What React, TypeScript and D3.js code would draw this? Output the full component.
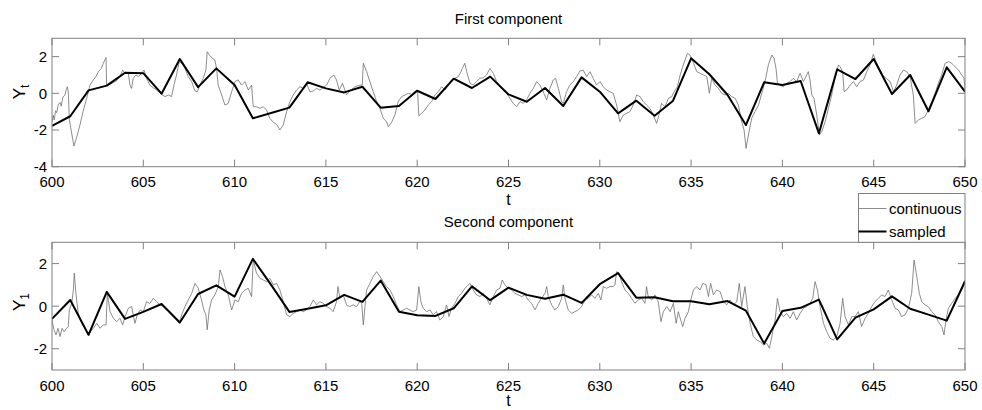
import React from 'react';
import * as d3 from 'd3';

// sampled series, one value per integer t
const sampleT = d3.range(600, 651);
const xTicks = d3.range(600, 651, 5);
const yTicksFirst = [-4, -2, 0, 2];
const yTicksSecond = [-2, 0, 2];

const sampledFirst = [
  -1.77, -1.25, 0.16, 0.42, 1.12, 1.1, -0.02, 1.87, 0.34, 1.36, 0.45, -1.36, -1.07, -0.78, 0.6, 0.27, 0.05,
  0.36, -0.78, -0.69, 0.14, -0.31, 0.8, 0.29, 0.91, -0.06, -0.46, 0.29, -0.69, 0.87, 0.09, -1.09, -0.4, -1.22,
  -0.42, 1.91, 1.04, -0.09, -1.73, 0.6, 0.45, 0.67, -2.18, 1.31, 0.78, 1.87, -0.04, 1.0, -0.98, 1.42, 0.09,
];

const sampledSecond = [
  -0.6, 0.29, -1.35, 0.67, -0.6, -0.27, 0.1, -0.77, 0.57, 0.98, 0.45, 2.22, 1.0, -0.27, -0.12, 0.04, 0.53,
  0.2, 1.2, -0.26, -0.43, -0.46, -0.1, 0.93, 0.28, 0.87, 0.53, 0.35, 0.54, 0.15, 1.03, 1.55, 0.4, 0.42,
  0.23, 0.23, 0.09, 0.24, -0.21, -1.76, -0.23, -0.08, 0.31, -1.56, -0.54, -0.15, 0.46, -0.12, -0.4, -0.68, 1.17,
];

// continuous path, [t, value]
const continuousFirst: [number, number][] = [
  [600.0, -1.55], [600.07, -1.2], [600.12, -1.45], [600.2, -0.95], [600.26, -1.05], [600.35, -0.6], [600.44, -0.5],
  [600.5, -0.7], [600.6, -0.2], [600.7, -0.1], [600.78, 0.2], [600.84, 0.36], [600.89, 0.1], [600.95, -1.45],
  [601.2, -2.87], [601.35, -2.4], [601.53, -1.73], [601.7, -1.0], [601.9, -0.27], [602.08, 0.45], [602.26, 0.73],
  [602.4, 0.9], [602.54, 1.18], [602.7, 1.35], [602.81, 1.64], [602.96, 1.95], [602.99, 0.45], [603.18, 0.49],
  [603.45, 0.64], [603.6, 0.75], [603.72, 0.91], [603.87, 1.27], [604.0, 1.09], [604.18, 1.09], [604.27, 0.45],
  [604.36, 0.27], [604.45, 0.82], [604.6, 1.0], [604.73, 0.91], [604.91, 1.09], [605.04, 1.27], [605.18, 0.82],
  [605.36, 0.45], [605.55, 0.3], [605.73, 0.18], [606.0, -0.05], [606.19, -0.18], [606.37, -0.09], [606.55, -0.18],
  [606.68, 0.45], [606.82, 1.0], [606.97, 1.73], [607.1, 1.64], [607.28, 1.36], [607.46, 0.91], [607.65, 0.64],
  [607.83, 0.13], [607.96, 0.09], [608.1, 0.45], [608.28, 0.82], [608.43, 1.27], [608.5, 2.27], [608.65, 2.05],
  [608.83, 1.87], [608.92, 1.82], [609.01, 1.36], [609.1, 0.45], [609.29, -0.09], [609.47, -0.64], [609.65, -0.55],
  [609.84, 0.09], [610.02, 0.64], [610.2, 0.73], [610.38, 0.45], [610.57, 0.64], [610.75, 0.18], [610.93, 0.45],
  [611.02, -0.73], [611.2, -0.73], [611.39, -0.82], [611.57, -0.73], [611.75, -0.91], [611.93, -1.36], [612.12, -1.58],
  [612.3, -1.69], [612.48, -2.0], [612.66, -1.73], [612.85, -1.0], [613.03, -0.45], [613.21, -0.09], [613.39, 0.18],
  [613.58, 0.36], [613.76, 0.27], [613.94, 0.55], [614.12, 0.09], [614.31, 0.13], [614.49, 0.27], [614.67, 0.18],
  [614.85, 0.31], [615.04, 0.45], [615.22, 0.82], [615.44, 1.0], [615.58, 0.73], [615.73, 0.18], [615.91, 0.55],
  [616.13, -0.09], [616.31, 0.13], [616.59, 0.36], [616.86, 0.45], [616.99, 0.45], [617.05, 1.64], [617.23, 1.18],
  [617.41, 0.64], [617.59, 0.09], [617.78, -0.45], [617.96, -0.82], [618.14, -1.36], [618.32, -1.55], [618.42, -1.82],
  [618.6, -1.58], [618.78, -1.18], [618.96, -0.45], [619.15, -0.18], [619.33, -0.09], [619.51, 0.0], [619.69, -0.05],
  [619.97, 0.18], [620.02, 0.09], [620.09, -1.22], [620.24, -1.09], [620.42, -0.91], [620.61, -0.64], [620.79, -0.45],
  [620.97, -0.09], [621.15, 0.09], [621.34, 0.36], [621.52, 0.18], [621.7, 0.45], [621.88, 0.73], [622.07, 0.82],
  [622.25, 0.91], [622.4, 1.18], [622.47, 1.36], [622.61, 1.64], [622.71, 1.18], [622.89, 0.55], [623.07, 0.45],
  [623.25, 0.64], [623.44, 0.82], [623.62, 0.85], [623.8, 1.0], [623.98, 1.36], [624.17, 1.09], [624.35, 0.64],
  [624.53, 0.36], [624.71, 0.18], [624.9, 0.0], [625.08, -0.27], [625.26, -0.55], [625.44, -0.73], [625.63, -0.45],
  [625.81, -0.55], [625.99, -0.36], [626.17, 0.0], [626.36, 0.27], [626.54, 0.64], [626.72, 0.45], [626.9, 0.09],
  [627.09, -0.36], [627.27, 0.27], [627.45, 0.73], [627.58, 0.82], [627.73, 0.27], [627.91, -0.45], [628.0, -0.55],
  [628.18, 0.09], [628.36, 0.45], [628.55, 0.64], [628.73, 0.91], [628.91, 1.22], [629.09, 1.27], [629.28, 0.91],
  [629.46, 1.18], [629.64, 0.82], [629.82, 0.45], [630.01, 0.64], [630.19, 0.36], [630.37, 0.18], [630.55, 0.09],
  [630.74, 0.0], [630.92, -0.64], [631.1, -1.55], [631.29, -1.18], [631.47, -1.09], [631.65, -1.0], [631.83, -0.64],
  [632.02, -0.09], [632.2, -0.18], [632.38, -0.45], [632.56, -0.64], [632.75, -0.82], [632.93, -1.18], [633.11, -1.64],
  [633.24, -1.18], [633.38, -0.55], [633.57, -0.73], [633.76, -0.27], [633.94, -0.18], [634.12, 0.18], [634.25, 0.36],
  [634.4, 1.0], [634.54, 1.45], [634.67, 1.82], [634.8, 2.18], [634.94, 2.09], [635.13, 1.64], [635.31, 1.18],
  [635.49, 1.09], [635.67, 1.0], [635.86, 0.91], [636.0, 0.0], [636.13, 0.82], [636.31, 0.45], [636.49, 0.27],
  [636.68, 0.0], [636.86, -0.09], [637.04, 0.0], [637.22, -0.18], [637.41, -0.27], [637.59, -0.64], [637.77, -1.55],
  [637.9, -2.0], [638.01, -3.0], [638.14, -2.27], [638.32, -1.36], [638.5, -1.0], [638.69, -0.64], [638.87, 0.0],
  [639.05, 0.64], [639.23, 1.55], [639.42, 2.09], [639.54, 1.91], [639.65, 1.36], [639.73, 0.55], [639.87, 0.45],
  [640.05, 0.36], [640.24, 0.55], [640.42, 0.64], [640.6, 0.82], [640.78, 0.64], [640.97, 1.09], [641.15, 0.64],
  [641.42, 1.18], [641.51, 0.73], [641.61, -0.09], [641.73, -0.27], [641.88, -1.18], [642.03, -2.27], [642.15, -2.09],
  [642.34, -1.55], [642.52, -0.82], [642.7, -0.09], [642.88, 0.82], [643.07, 1.55], [643.16, 1.45], [643.3, 1.18],
  [643.38, 0.09], [643.52, 0.18], [643.71, 0.45], [643.89, 0.64], [644.07, 0.36], [644.25, 0.64], [644.44, 0.73],
  [644.62, 1.18], [644.8, 1.55], [644.98, 2.13], [645.13, 1.73], [645.31, 1.36], [645.49, 1.0], [645.68, 0.82],
  [645.9, 0.64], [646.08, 0.09], [646.26, 0.45], [646.44, 1.0], [646.63, 1.27], [646.81, 1.18], [646.99, 0.91],
  [647.17, -0.09], [647.27, -1.64], [647.45, -1.45], [647.63, -1.36], [647.81, -1.27], [647.99, -0.91], [648.18, -0.45],
  [648.36, 0.0], [648.54, 0.55], [648.72, 1.0], [648.91, 1.64], [649.09, 1.73], [649.27, 1.64], [649.46, 1.45],
  [649.64, 1.27], [649.82, 1.0], [649.95, 0.82], [650.0, 0.18],
];

const continuousSecond: [number, number][] = [
  [600.0, -0.65], [600.11, -1.11], [600.22, -1.35], [600.33, -1.04], [600.44, -1.43], [600.55, -1.04], [600.66, -1.2],
  [600.8, -1.04], [600.89, -0.96], [600.95, -0.18], [601.08, 0.13], [601.17, 0.76], [601.22, 1.55], [601.31, 0.6],
  [601.44, -0.34], [601.62, -0.81], [601.81, -1.04], [601.99, -1.35], [602.12, -1.2], [602.26, -1.04], [602.45, -0.81],
  [602.63, -1.04], [602.81, -0.88], [602.96, -0.88], [603.03, 0.6], [603.18, -0.26], [603.36, -0.57], [603.54, -0.73],
  [603.72, -0.57], [603.87, -0.88], [604.0, -0.49], [604.18, -0.1], [604.36, -0.02], [604.54, -0.81], [604.67, -0.41],
  [604.82, -0.18], [605.0, -0.26], [605.18, 0.21], [605.36, 0.13], [605.55, 0.37], [605.73, 0.21], [605.91, 0.06],
  [606.09, -0.02], [606.28, -0.18], [606.46, -0.26], [606.64, -0.49], [606.82, -0.65], [606.97, -0.81], [607.1, -0.41],
  [607.28, -0.02], [607.46, 0.29], [607.65, 0.6], [607.83, 1.07], [608.01, 0.84], [608.19, 0.29], [608.32, -0.18],
  [608.43, -0.41], [608.5, -1.11], [608.61, -0.18], [608.74, 0.29], [608.92, 0.53], [609.11, 0.92], [609.2, 1.7],
  [609.34, 1.39], [609.47, 0.92], [609.65, 0.53], [609.84, -0.18], [610.02, 0.29], [610.2, 0.21], [610.38, 0.6],
  [610.57, 0.76], [610.75, 0.84], [610.93, 0.45], [611.02, 2.17], [611.2, 1.55], [611.39, 1.31], [611.57, 1.23],
  [611.75, 1.15], [611.93, 1.31], [612.12, 1.0], [612.3, 1.07], [612.48, 0.76], [612.66, 0.21], [612.85, -0.41],
  [613.03, -0.49], [613.21, -0.34], [613.39, -0.26], [613.58, -0.18], [613.76, -0.26], [613.94, -0.18], [614.12, -0.02],
  [614.31, 0.29], [614.49, 0.06], [614.67, 0.21], [614.85, 0.13], [615.04, -0.02], [615.22, -0.1], [615.4, -0.26],
  [615.58, 0.21], [615.66, 0.92], [615.77, 0.37], [615.95, 0.53], [616.13, 0.06], [616.31, -0.02], [616.5, 0.06],
  [616.68, -0.02], [616.86, 0.21], [616.96, 0.13], [617.05, -0.88], [617.14, -0.02], [617.23, 0.76], [617.41, 1.07],
  [617.59, 1.39], [617.78, 1.62], [617.96, 1.39], [618.14, 1.15], [618.32, 0.92], [618.51, 0.76], [618.69, 0.45],
  [618.87, 0.06], [619.05, -0.26], [619.24, -0.18], [619.42, -0.1], [619.6, -0.18], [619.78, -0.26], [619.97, -0.18],
  [620.09, 0.92], [620.2, 0.21], [620.33, -0.1], [620.51, -0.26], [620.7, -0.18], [620.88, -0.41], [621.06, -0.26],
  [621.24, -0.65], [621.43, -0.49], [621.61, 0.06], [621.74, -0.49], [621.88, -0.1], [622.07, 0.13], [622.25, 0.45],
  [622.43, 0.6], [622.61, 0.84], [622.89, 1.07], [623.07, 0.76], [623.25, 0.53], [623.44, 0.45], [623.62, 0.6],
  [623.8, 0.37], [623.98, 0.06], [624.17, 0.45], [624.35, 0.76], [624.53, 0.84], [624.66, 1.23], [624.8, 1.0],
  [624.99, 0.84], [625.17, 0.76], [625.35, 0.6], [625.53, 0.53], [625.72, 0.45], [625.9, 0.53], [626.08, 0.29],
  [626.27, 0.13], [626.45, -0.18], [626.63, 0.13], [626.81, 0.37], [627.0, 0.6], [627.09, 0.92], [627.18, 0.45],
  [627.36, 0.06], [627.54, -0.18], [627.73, -0.02], [627.91, 0.37], [628.0, 1.0], [628.09, 0.37], [628.27, -0.18],
  [628.46, -0.34], [628.64, -0.26], [628.82, -0.18], [629.0, -0.02], [629.19, 0.29], [629.37, 0.37], [629.55, 0.53],
  [629.73, 0.37], [629.92, 0.6], [630.06, 0.29], [630.19, 0.92], [630.37, 0.84], [630.56, 0.92], [630.74, 0.92],
  [630.83, 1.0], [630.92, 1.62], [631.05, 1.55], [631.19, 1.15], [631.38, 0.76], [631.56, 0.6], [631.74, 0.37],
  [631.92, 0.13], [632.11, 0.29], [632.29, 0.37], [632.47, 0.13], [632.56, 0.92], [632.65, 0.45], [632.84, 0.29],
  [633.02, 0.53], [633.2, 0.21], [633.35, -0.73], [633.48, -0.26], [633.67, -0.02], [633.85, -0.26], [634.03, 0.13],
  [634.18, -0.81], [634.3, -0.26], [634.43, -0.65], [634.54, -0.96], [634.67, -0.57], [634.85, -0.26], [634.98, 0.29],
  [635.13, 0.76], [635.31, 0.92], [635.49, 0.76], [635.64, 1.07], [635.82, 1.0], [635.95, 0.45], [636.07, 1.07],
  [636.22, 0.53], [636.4, 0.76], [636.59, 0.68], [636.77, 0.21], [636.95, 0.06], [637.13, 0.29], [637.32, 0.06],
  [637.5, 0.21], [637.64, 1.07], [637.77, -0.02], [637.95, 0.92], [638.08, -0.02], [638.23, -0.81], [638.41, -1.43],
  [638.59, -1.59], [638.78, -1.67], [638.96, -1.82], [639.14, -1.75], [639.29, -1.98], [639.42, -1.43], [639.6, -0.65],
  [639.73, 0.37], [639.87, -0.26], [640.05, -0.49], [640.24, -0.34], [640.42, -0.57], [640.6, -0.26], [640.78, -0.65],
  [640.97, -0.34], [641.15, -0.1], [641.33, -0.02], [641.51, 0.13], [641.66, 0.37], [641.79, 1.15], [641.92, 0.76],
  [642.06, -0.02], [642.25, -0.81], [642.43, -1.2], [642.61, -1.51], [642.79, -1.59], [642.98, -1.43], [643.16, -0.81],
  [643.3, 0.37], [643.43, -0.49], [643.61, -0.88], [643.8, -0.49], [643.98, -0.49], [644.16, -0.26], [644.34, -0.96],
  [644.53, -0.57], [644.71, -0.34], [644.89, -0.02], [645.07, 0.21], [645.26, 0.37], [645.44, 0.53], [645.62, 0.45],
  [645.8, 0.76], [645.99, 0.29], [646.17, -0.1], [646.35, -0.18], [646.53, -0.49], [646.72, -0.41], [646.9, -0.1],
  [647.08, 0.6], [647.21, 2.17], [647.36, 1.39], [647.5, 0.6], [647.63, 0.21], [647.81, 0.06], [647.99, -0.02],
  [648.18, -0.26], [648.36, -0.41], [648.54, -0.73], [648.73, -0.96], [648.85, -1.35], [648.96, -0.65], [649.09, -0.1],
  [649.27, 0.13], [649.46, 0.37], [649.64, 0.53], [649.82, 0.76], [650.0, 1.23],
];

const W = 982;
const H = 410;
const left = 52;
const right = 965;
const font = '"Liberation Sans", Arial, Helvetica, sans-serif';
const axisGrey = '#808080';
const contGrey = '#707070';

const x = d3.scaleLinear().domain([600, 650]).range([left, right]);

type PanelProps = {
  id: string;
  top: number;
  bottom: number;
  domain: [number, number];
  yTicks: number[];
  title: string;
  titleY: number;
  tickLabelY: number;
  xLabelY: number;
  yLabelCenter: number;
  sub: string;
  continuous: [number, number][];
  sampled: number[];
};

function Panel(p: PanelProps) {
  const y = d3.scaleLinear().domain(p.domain).range([p.bottom, p.top]);
  const line = d3.line<[number, number]>().x((d) => x(d[0])).y((d) => y(d[1]));
  const sampledPts = sampleT.map((t, i) => [t, p.sampled[i]] as [number, number]);
  const tick = 7;
  return (
    <g>
      <defs>
        <clipPath id={p.id}>
          <rect x={left} y={p.top} width={right - left} height={p.bottom - p.top} />
        </clipPath>
      </defs>
      <g clipPath={`url(#${p.id})`}>
        <path d={line(p.continuous) || ''} fill="none" stroke={contGrey} strokeWidth={0.8} />
        <path d={line(sampledPts) || ''} fill="none" stroke="#000" strokeWidth={2} strokeLinejoin="round" />
      </g>
      <rect x={left} y={p.top} width={right - left} height={p.bottom - p.top} fill="none" stroke={axisGrey} strokeWidth={1} />
      {xTicks.map((t) => (
        <g key={'x' + t}>
          <line x1={x(t)} x2={x(t)} y1={p.bottom} y2={p.bottom - tick} stroke={axisGrey} />
          <line x1={x(t)} x2={x(t)} y1={p.top} y2={p.top + tick} stroke={axisGrey} />
          <text x={x(t)} y={p.tickLabelY} textAnchor="middle" fontSize={15} fontFamily={font}>
            {t}
          </text>
        </g>
      ))}
      {p.yTicks.map((v) => (
        <g key={'y' + v}>
          <line x1={left} x2={left + tick} y1={y(v)} y2={y(v)} stroke={axisGrey} />
          <line x1={right} x2={right - tick} y1={y(v)} y2={y(v)} stroke={axisGrey} />
          <text x={left - 5} y={y(v)} dy="0.36em" textAnchor="end" fontSize={15} fontFamily={font}>
            {v}
          </text>
        </g>
      ))}
      <text x={(left + right) / 2} y={p.titleY} textAnchor="middle" fontSize={15} fontFamily={font}>
        {p.title}
      </text>
      <text x={(left + right) / 2} y={p.xLabelY} textAnchor="middle" fontSize={16} fontFamily={font}>
        t
      </text>
      <text
        transform={`translate(25,${p.yLabelCenter}) rotate(-90)`}
        textAnchor="middle"
        fontSize={17}
        fontFamily={font}
      >
        Y<tspan fontSize={12} dy="4">{p.sub}</tspan>
      </text>
    </g>
  );
}

export default function App() {
  return (
    <svg width={W} height={H} style={{ position: 'absolute', left: 0, top: 0, background: '#fff' }}>
      <rect width={W} height={H} fill="#fff" />
      <Panel
        id="clipA"
        top={38.3}
        bottom={166.7}
        domain={[-4, 3]}
        yTicks={yTicksFirst}
        title="First component"
        titleY={24}
        tickLabelY={187}
        xLabelY={205}
        yLabelCenter={92}
        sub="t"
        continuous={continuousFirst}
        sampled={sampledFirst}
      />
      <Panel
        id="clipB"
        top={242.3}
        bottom={370}
        domain={[-3, 3]}
        yTicks={yTicksSecond}
        title="Second component"
        titleY={227}
        tickLabelY={390.5}
        xLabelY={406}
        yLabelCenter={302}
        sub="1"
        continuous={continuousSecond}
        sampled={sampledSecond}
      />
      <g>
        <rect x={858.5} y={193.5} width={106.5} height={48.8} fill="#fff" stroke={axisGrey} />
        <line x1={858.5} x2={886.5} y1={208.5} y2={208.5} stroke={contGrey} strokeWidth={0.8} />
        <text x={889} y={213.5} fontSize={15} fontFamily={font}>continuous</text>
        <line x1={858.5} x2={886.5} y1={231.5} y2={231.5} stroke="#000" strokeWidth={2} />
        <text x={889} y={237} fontSize={15} fontFamily={font}>sampled</text>
      </g>
    </svg>
  );
}
